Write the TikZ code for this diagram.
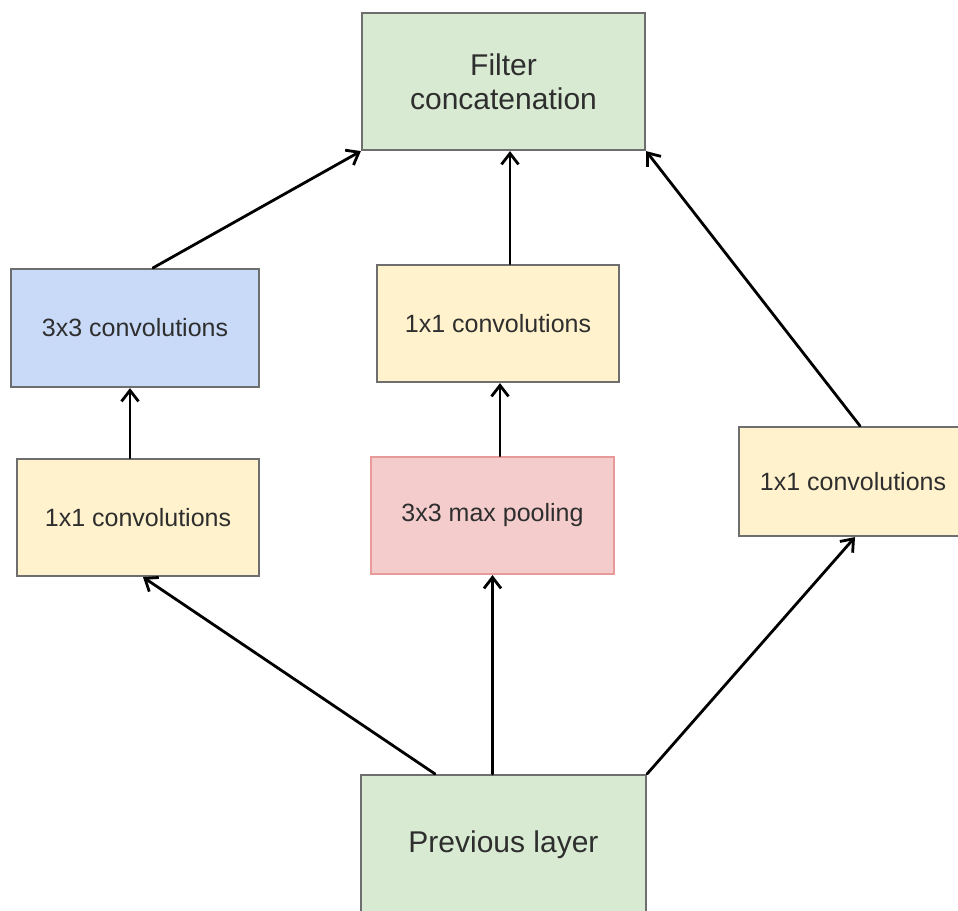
\documentclass[tikz,border=0pt]{standalone}
\usepackage{fontspec}
\setmainfont{Liberation Sans}
\usetikzlibrary{arrows.meta}
\definecolor{boxgreen}{HTML}{D9EAD3}
\definecolor{boxblue}{HTML}{C9DAF8}
\definecolor{boxyellow}{HTML}{FFF2CC}
\definecolor{boxpink}{HTML}{F4CCCC}
\definecolor{edgegray}{HTML}{6E6E6E}
\definecolor{edgepink}{HTML}{E89A9A}
\definecolor{labelgray}{HTML}{2E2E2E}
\tikzset{
  block/.style={draw=edgegray, line width=2.2pt, rectangle, align=center,
    text=labelgray, inner sep=0pt, font=\fontsize{25}{30}\selectfont},
  bigblock/.style={block, fill=boxgreen, font=\fontsize{30}{34}\selectfont},
  link/.style={draw=black, line width=2.8pt, line cap=round,
    -{Straight Barb[length=11pt,width=17pt,line width=2.8pt]}},
}
\begin{document}
\begin{tikzpicture}[x=1pt,y=-1pt]
  \fill[white] (0,0) rectangle (958,910);
  \useasboundingbox (0,0) rectangle (958,910);

  % layer boxes
  \node[bigblock, minimum width=283pt, minimum height=137pt] (concat) at (503.5,81.5) {Filter\\concatenation};
  \node[block, fill=boxblue, minimum width=248pt, minimum height=118pt] (conv3) at (135,328) {3x3 convolutions};
  \node[block, fill=boxyellow, minimum width=242pt, minimum height=117pt] (red1) at (138,517.5) {1x1 convolutions};
  \node[block, fill=boxyellow, minimum width=242pt, minimum height=117pt] (mid1) at (498,323.5) {1x1 convolutions};
  \node[block, fill=boxpink, draw=edgepink, minimum width=243pt, minimum height=117pt] (pool) at (492.5,515.5) {3x3 max pooling};
  \node[block, fill=boxyellow, minimum width=228pt, minimum height=109pt] (right1) at (853,481.5) {1x1 convolutions};
  \node[bigblock, minimum width=285pt, minimum height=140pt] (prev) at (503.5,845) {Previous layer};

  % connections
  \draw[link] ([xshift=-68.5pt]prev.north) -- ([xshift=5pt]red1.south);
  \draw[link] ([xshift=-11pt]prev.north) -- (pool.south);
  \draw[link] (prev.north east) -- ([xshift=2pt]right1.south);
  \draw[link] ([xshift=-8pt]red1.north) -- ([xshift=-5pt]conv3.south);
  \draw[link] ([xshift=18pt]conv3.north) -- (concat.south west);
  \draw[link] ([xshift=7.5pt]pool.north) -- ([xshift=2pt]mid1.south);
  \draw[link] ([xshift=12pt]mid1.north) -- ([xshift=6.5pt]concat.south);
  \draw[link] ([xshift=7pt]right1.north) -- (concat.south east);
\end{tikzpicture}
\end{document}
